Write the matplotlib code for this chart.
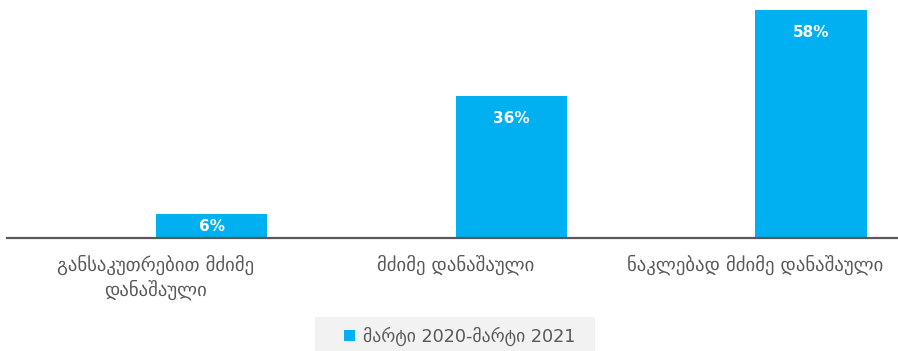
import matplotlib
matplotlib.use("Agg")
import matplotlib.pyplot as plt
from matplotlib.patches import Rectangle

# Crime categories (Georgian) and share of cases, March 2020 - March 2021
categories = ["განსაკუთრებით მძიმე\nდანაშაული", "მძიმე დანაშაული", "ნაკლებად მძიმე დანაშაული"]
shares = [6, 36, 58]
series_label = "მარტი 2020-მარტი 2021"

BAR_COLOR = "#00B0F0"
TEXT_GRAY = "#595959"
BAR_WIDTH = 0.372

plt.rcParams['font.family'] = ['DejaVu Sans']

fig = plt.figure(figsize=(8.98, 3.51), dpi=100)
ax = fig.add_axes([7 / 898, 113 / 351, 891 / 898, 238 / 351])

# bars sit in the right half of each category slot (clustered layout)
x = list(range(len(categories)))
bar_x = [xi + BAR_WIDTH / 2 for xi in x]
bars = ax.bar(bar_x, shares, width=BAR_WIDTH, color=BAR_COLOR, zorder=2)

# value labels inside the bar ends
for bx, v in zip(bar_x, shares):
    ax.text(bx, v - min(5.7, v / 2), f"{v}%", ha='center', va='center',
            color='white', fontsize=11, fontweight='bold')

ax.set_xlim(-0.4975, 2.477)
ax.set_ylim(0, 60.5)

for side in ['top', 'right', 'left']:
    ax.spines[side].set_visible(False)
ax.spines['bottom'].set_color(TEXT_GRAY)
ax.spines['bottom'].set_linewidth(1.6)
ax.set_yticks([])
ax.set_xticks(x)
ax.set_xticklabels(categories, color=TEXT_GRAY, fontsize=13.5, linespacing=1.3)
ax.tick_params(axis='x', length=0, pad=12)

# legend panel
fig.patches.append(Rectangle((315 / 898, 0), 280 / 898, 34 / 351,
                             transform=fig.transFigure, facecolor='#F2F2F2',
                             edgecolor='none', zorder=0))
leg = fig.legend([bars], [series_label], loc='center left',
                 bbox_to_anchor=(344 / 898, 1 - 336 / 351),
                 frameon=False, fontsize=12.7, handlelength=0.6, handleheight=0.6,
                 handletextpad=0.5, borderpad=0, borderaxespad=0)
for t in leg.get_texts():
    t.set_color(TEXT_GRAY)

fig.savefig("out.png", dpi=100)
